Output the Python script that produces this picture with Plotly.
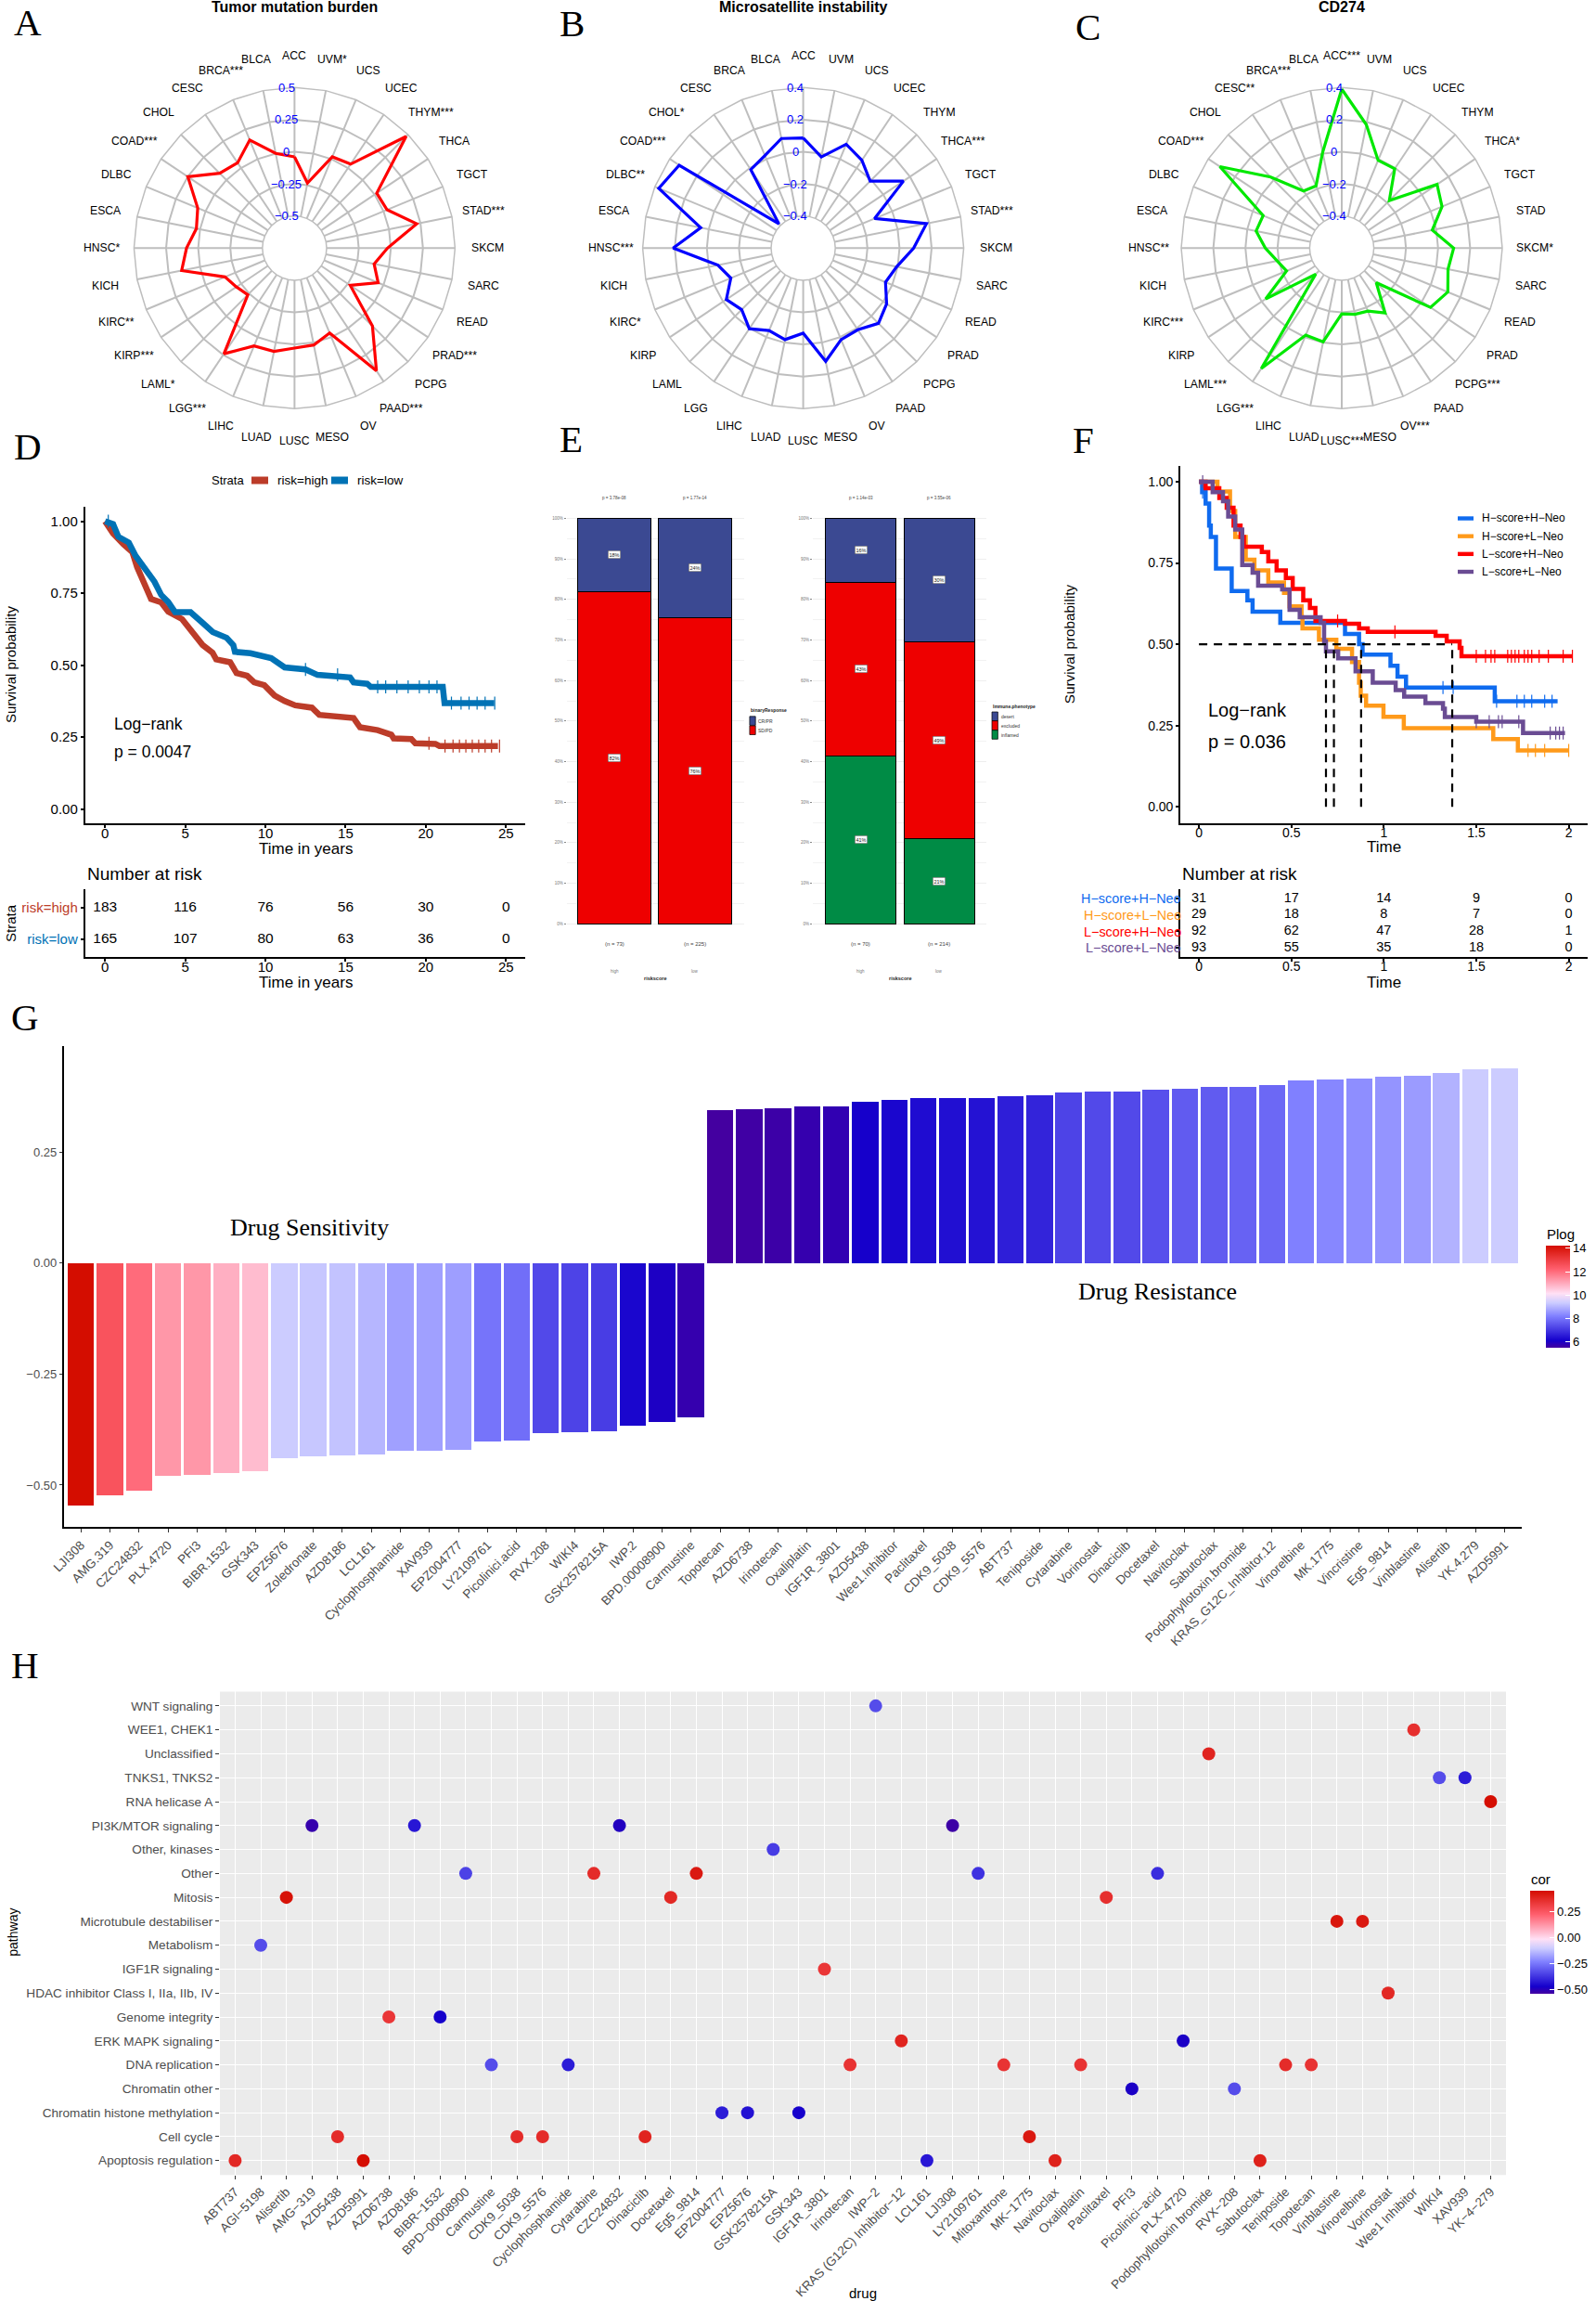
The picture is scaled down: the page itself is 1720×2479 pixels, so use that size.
import math
import plotly.graph_objects as go

W, H = 1720, 2479
SANS = "Liberation Sans"
SERIF = "Liberation Serif"

# ---------- data: radar panels ----------
cancers = ["ACC","UVM","UCS","UCEC","THYM","THCA","TGCT","STAD","SKCM","SARC","READ","PRAD","PCPG","PAAD","OV","MESO",
           "LUSC","LUAD","LIHC","LGG","LAML","KIRP","KIRC","KICH","HNSC","ESCA","DLBC","COAD","CHOL","CESC","BRCA","BLCA"]
tmb_labels = ["ACC","UVM*","UCS","UCEC","THYM***","THCA","TGCT","STAD***","SKCM","SARC","READ","PRAD***","PCPG","PAAD***","OV","MESO",
              "LUSC","LUAD","LIHC","LGG***","LAML*","KIRP***","KIRC**","KICH","HNSC*","ESCA","DLBC","COAD***","CHOL","CESC","BRCA***","BLCA"]
msi_labels = ["ACC","UVM","UCS","UCEC","THYM","THCA***","TGCT","STAD***","SKCM","SARC","READ","PRAD","PCPG","PAAD","OV","MESO",
              "LUSC","LUAD","LIHC","LGG","LAML","KIRP","KIRC*","KICH","HNSC***","ESCA","DLBC**","COAD***","CHOL*","CESC","BRCA","BLCA"]
cd274_labels = ["ACC***","UVM","UCS","UCEC","THYM","THCA*","TGCT","STAD","SKCM*","SARC","READ","PRAD","PCPG***","PAAD","OV***","MESO",
                "LUSC***","LUAD","LIHC","LGG***","LAML***","KIRP","KIRC***","KICH","HNSC**","ESCA","DLBC","COAD***","CHOL","CESC**","BRCA***","BLCA"]
tmb = [-.04,-.234,.019,.036,.479,.02,.03,.22,-.026,-.118,-.045,-.228,.108,.398,-.035,.019,
       .028,.07,.074,.239,-.236,-.206,-.164,.146,.091,.029,.066,.249,.074,.048,.161,.002]
msi = [.086,-.021,.10,.058,-.01,.151,-.119,.183,.088,-.006,-.045,.025,.063,.012,.017,.119,
       -.07,-.019,-.044,.004,-.058,-.024,-.112,-.058,.21,.051,.374,.329,-.386,-.012,.024,.096]
cd274 = [.39,.184,-.008,-.006,-.181,.114,.076,-.025,.097,.075,.115,.065,-.296,-.114,-.175,-.18,
         -.19,-.005,-.014,.302,-.371,-.03,-.228,-.19,-.124,-.056,-.07,.313,.026,-.172,-.181,.009]

# ---------- data: panel D ----------
d_high_t = [0,.5,1.15,1.7,2,2.44,2.87,3.5,3.94,4.8,5.44,6.08,6.7,6.93,7.8,8.2,8.86,9.3,9.93,10.57,11.2,11.86,12.9,13.36,15.5,15.9,17,17.85,18,19.1,19.35,20.6,20.85,24.5]
d_high_s = [1,.958,.92,.893,.84,.79,.73,.718,.686,.66,.615,.57,.543,.52,.51,.472,.463,.44,.43,.394,.375,.36,.352,.327,.316,.284,.274,.258,.245,.243,.228,.226,.219,.219]
d_low_t = [0,.5,.83,1.48,1.9,2.44,3.08,3.5,3.94,4.37,5.33,6.08,6.72,7.58,8,8.1,9.07,10.36,11.2,12.5,13.25,15.28,15.5,16.35,16.57,21.06,21.17,24.27]
d_low_s = [1,.99,.946,.926,.88,.842,.79,.744,.719,.684,.684,.647,.615,.595,.569,.546,.541,.524,.492,.485,.466,.457,.44,.435,.424,.424,.368,.368]
d_high_cens = [1.7,2.1,20.2,21.2,21.7,22.1,22.5,22.9,23.3,23.7,24.1,24.6]
d_low_cens = [0.2,12.5,14.5,17.0,17.5,18.2,18.9,19.6,20.2,20.7,21.6,22.2,22.7,23.2,23.7,24.3]
d_times = [0,5,10,15,20,25]
d_rows = ["risk=low","risk=high"]
d_counts = {"risk=high":[183,116,76,56,30,0],"risk=low":[165,107,80,63,36,0]}

# ---------- data: panel E ----------
e_groups = ["high","low"]
e_resp_names = ["SD/PD","CR/PR"]
e_resp = {"SD/PD":[.82,.755],"CR/PR":[.18,.245]}
e_resp_lab = {"SD/PD":["82%","76%"],"CR/PR":["18%","24%"]}
e_imm_names = ["inflamed","excluded","desert"]
e_imm = {"inflamed":[.414,.21],"excluded":[.429,.486],"desert":[.157,.304]}
e_imm_lab = {"inflamed":["41%","21%"],"excluded":["43%","49%"],"desert":["16%","30%"]}
e_colors = {"CR/PR":"#3B4992","SD/PD":"#EE0000","desert":"#3B4992","excluded":"#EE0000","inflamed":"#008B45"}
e_n = [["(n = 73)","(n = 225)"],["(n = 70)","(n = 214)"]]
e_p = [["p = 3.78e-08","p = 1.77e-14"],["p = 1.14e-03","p = 3.55e-06"]]
e_pct = [0,.1,.2,.3,.4,.5,.6,.7,.8,.9,1]

# ---------- data: panel F ----------
f_names = ["H\u2212score+H\u2212Neo","H\u2212score+L\u2212Neo","L\u2212score+H\u2212Neo","L\u2212score+L\u2212Neo"]
f_colors = ["#0F6BEF","#FF9A1A","#FF0000","#6A4C93"]
f_t = [
 [0,.017,.036,.055,.064,.092,.177,.262,.29,.44,.79,.866,.885,1.036,1.074,1.12,1.6,1.94],
 [0,.10,.168,.196,.253,.3,.375,.46,.49,.555,.56,.649,.743,.828,.866,.875,.904,.998,1.108,1.592,1.725,2.0],
 [0,.036,.11,.15,.187,.225,.243,.34,.375,.42,.47,.507,.564,.6,.63,.79,.866,.913,1.28,1.34,1.41,1.42,2.02],
 [0,.074,.13,.158,.196,.234,.29,.32,.45,.49,.545,.658,.677,.687,.753,.847,.94,1.064,1.11,1.225,1.32,1.33,1.5,1.753,1.98],
]
f_s = [
 [1,.968,.933,.865,.83,.733,.664,.635,.6,.566,.532,.50,.468,.434,.40,.367,.325,.325],
 [1,.97,.91,.83,.76,.727,.69,.658,.617,.583,.549,.514,.486,.445,.382,.342,.311,.277,.242,.208,.173,.173],
 [1,.98,.95,.92,.865,.83,.80,.784,.755,.727,.704,.67,.635,.612,.572,.563,.549,.538,.526,.509,.489,.463,.463],
 [1,.968,.94,.893,.853,.744,.72,.68,.669,.606,.583,.566,.509,.478,.457,.417,.382,.359,.339,.319,.302,.276,.262,.227,.227],
]
f_cens = [
 [0.02,1.32,1.375,1.61,1.72,1.76,1.8,1.87,1.91],
 [1.78,1.82,1.87,2.0],
 [.75,1.06,1.5,1.55,1.58,1.6,1.67,1.69,1.71,1.73,1.76,1.78,1.8,1.84,1.89,1.97,2.02],
 [.02,1.5,1.57,1.62,1.64,1.73,1.9,1.93,1.95,1.97],
]
f_medians = [.687,.73,.877,1.37]
f_times = [0,.5,1,1.5,2]
f_time_labels = ["0","0.5","1","1.5","2"]
f_counts = [[31,17,14,9,0],[29,18,8,7,0],[92,62,47,28,1],[93,55,35,18,0]]

# ---------- data: panel G ----------
g_drugs = ["LJI308","AMG.319","CZC24832","PLX.4720","PFI3","BIBR.1532","GSK343","EPZ5676","Zoledronate","AZD8186","LCL161","Cyclophosphamide","XAV939","EPZ004777","LY2109761","Picolinici.acid","RVX.208","WIKI4","GSK2578215A","IWP.2","BPD.00008900","Carmustine",
           "Topotecan","AZD6738","Irinotecan","Oxaliplatin","IGF1R_3801","AZD5438","Wee1.Inhibitor","Paclitaxel","CDK9_5038","CDK9_5576","ABT737","Teniposide","Cytarabine","Vorinostat","Dinaciclib","Docetaxel","Navitoclax","Sabutoclax","Podophyllotoxin.bromide","KRAS_G12C_Inhibitor.12","Vinorelbine","MK.1775","Vincristine","Eg5_9814","Vinblastine","Alisertib","YK.4.279","AZD5991"]
g_cor = [-.546,-.523,-.512,-.479,-.478,-.472,-.469,-.439,-.436,-.434,-.431,-.422,-.422,-.42,-.402,-.399,-.384,-.381,-.379,-.366,-.358,-.348,
         .345,.346,.349,.353,.353,.362,.368,.371,.372,.372,.375,.377,.384,.386,.386,.39,.393,.396,.397,.40,.411,.414,.416,.42,.421,.427,.437,.438]
g_plog = [14.2,12.5,12,11.3,11.3,10.9,10.7,9.33,9.25,9.2,9.0,8.68,8.68,8.65,8.0,7.9,7.3,7.2,7.1,6.2,6.0,5.7,
          5.5,5.55,5.6,5.7,5.75,6.1,6.2,6.3,6.35,6.4,6.6,6.7,7.2,7.3,7.3,7.4,7.6,7.6,7.7,7.8,8.2,8.3,8.4,8.5,8.6,8.94,9.33,9.33]

# ---------- data: panel H ----------
h_pathways = ["Apoptosis regulation","Cell cycle","Chromatin histone methylation","Chromatin other","DNA replication","ERK MAPK signaling","Genome integrity","HDAC inhibitor Class I, IIa, IIb, IV","IGF1R signaling","Metabolism","Microtubule destabiliser","Mitosis","Other","Other, kinases","PI3K/MTOR signaling","RNA helicase A","TNKS1, TNKS2","Unclassified","WEE1, CHEK1","WNT signaling"]
h_drugs = ["ABT737","AGI\u22125198","Alisertib","AMG\u2212319","AZD5438","AZD5991","AZD6738","AZD8186","BIBR\u22121532","BPD\u221200008900","Carmustine","CDK9_5038","CDK9_5576","Cyclophosphamide","Cytarabine","CZC24832","Dinaciclib","Docetaxel","Eg5_9814","EPZ004777","EPZ5676","GSK2578215A","GSK343","IGF1R_3801","Irinotecan","IWP\u22122","KRAS (G12C) Inhibitor\u221212","LCL161","LJI308","LY2109761","Mitoxantrone","MK\u22121775","Navitoclax","Oxaliplatin","Paclitaxel","PFI3","Picolinici\u2212acid","PLX\u22124720","Podophyllotoxin bromide","RVX\u2212208","Sabutoclax","Teniposide","Topotecan","Vinblastine","Vinorelbine","Vorinostat","Wee1 Inhibitor","WIKI4","XAV939","YK\u22124\u2212279"]
h_drug_pathway = ["Apoptosis regulation","Metabolism","Mitosis","PI3K/MTOR signaling","Cell cycle","Apoptosis regulation","Genome integrity","PI3K/MTOR signaling","Genome integrity","Other","DNA replication","Cell cycle","Cell cycle","DNA replication","Other","PI3K/MTOR signaling","Cell cycle","Mitosis","Other","Chromatin histone methylation","Chromatin histone methylation","Other, kinases","Chromatin histone methylation","IGF1R signaling","DNA replication","WNT signaling","ERK MAPK signaling","Apoptosis regulation","PI3K/MTOR signaling","Other","DNA replication","Cell cycle","Apoptosis regulation","DNA replication","Mitosis","Chromatin other","Other","ERK MAPK signaling","Unclassified","Chromatin other","Apoptosis regulation","DNA replication","DNA replication","Microtubule destabiliser","Microtubule destabiliser","HDAC inhibitor Class I, IIa, IIb, IV","WEE1, CHEK1","TNKS1, TNKS2","TNKS1, TNKS2","RNA helicase A"]
h_cor = [.37,-.33,.43,-.52,.36,.44,.33,-.43,-.47,-.35,-.33,.36,.36,-.42,.36,-.49,.38,.37,.41,-.42,-.44,-.36,-.47,.33,.34,-.33,.38,-.43,-.53,-.38,.34,.41,.39,.34,.35,-.48,-.39,-.48,.38,-.33,.39,.36,.34,.42,.41,.37,.35,-.33,-.42,.44]

# ---------- helpers ----------
def xd(a, b): return [a / W, b / W]
def yd(top, bot): return [1 - bot / H, 1 - top / H]
annotations, shapes = [], []
def ann(text, x, y, size=12, color="black", family=SANS, xanchor="center", yanchor="middle", angle=0, **kw):
    annotations.append(dict(text=text, x=x / W, y=1 - y / H, xref="paper", yref="paper", showarrow=False,
                            xanchor=xanchor, yanchor=yanchor, textangle=angle, borderpad=0,
                            font=dict(family=family, size=size, color=color), **kw))
def rect(x0, y0, x1, y1, fill, line=None, lw=0, layer="above"):
    shapes.append(dict(type="rect", xref="paper", yref="paper", x0=x0 / W, x1=x1 / W, y0=1 - y0 / H, y1=1 - y1 / H,
                       fillcolor=fill, line=dict(color=line or fill, width=lw), layer=layer))
def step_at(ts, ss, t):
    v = ss[0]
    for a, b in zip(ts, ss):
        if a <= t: v = b
    return v

fig = go.Figure()
layout = dict(width=W, height=H, autosize=False, margin=dict(l=0, r=0, t=0, b=0, pad=0, autoexpand=False), paper_bgcolor="white",
              plot_bgcolor="rgba(0,0,0,0)", showlegend=False, barmode="stack",
              font=dict(family=SANS, color="black"))

# ---------- panel letters ----------
for s, x, y in [("A",29.6,24),("B",616,24.5),("C",1172.5,29),("D",30.3,481),("E",615,473),("F",1167.6,474),("G",27.4,1096),("H",27.4,1794)]:
    ann(s, x, y, size=41, family=SERIF)

# ---------- radar A, B, C ----------
R = 173
CY = 267.3
LABEL_RHO = 1.2
radars = [("polar", 317.4, "Tumor mutation burden", tmb, tmb_labels, "#FF0000", .5, [.5,.25,0,-.25,-.5], ["0.5","0.25","0","\u22120.25","\u22120.5"]),
          ("polar2", 865.6, "Microsatellite instability", msi, msi_labels, "#0000FF", .4, [.4,.2,0,-.2,-.4], ["0.4","0.2","0","\u22120.2","\u22120.4"]),
          ("polar3", 1446, "CD274", cd274, cd274_labels, "#00E800", .4, [.4,.2,0,-.2,-.4], ["0.4","0.2","0","\u22120.2","\u22120.4"])]
GRID = "#BEBEBE"
for sp, cx, title, vals, labels, col, rmax, ticks, ticktxt in radars:
    layout[sp] = dict(domain=dict(x=xd(cx - R, cx + R), y=yd(CY - R, CY + R)), hole=.2, gridshape="linear", bgcolor="rgba(0,0,0,0)",
                      radialaxis=dict(range=[-rmax, rmax], tickvals=ticks, showticklabels=False, showline=False, ticks="",
                                      gridcolor=GRID, gridwidth=1.5, angle=90),
                      angularaxis=dict(type="category", categoryorder="array", categoryarray=cancers, rotation=90, direction="clockwise",
                                       showticklabels=False, ticks="", showline=True, linecolor=GRID, linewidth=1.5,
                                       gridcolor=GRID, gridwidth=1.5))
    fig.add_trace(go.Scatterpolar(subplot=sp, theta=cancers + cancers[:1], r=vals + vals[:1], mode="lines+markers",
                                  line=dict(color=col, width=3.2), marker=dict(color=col, size=7), hoverinfo="skip"))
    for i, lab in enumerate(labels):
        a = 2 * math.pi * i / len(labels)
        ann(lab, cx + R * LABEL_RHO * math.sin(a), CY - R * LABEL_RHO * math.cos(a), size=12.2)
    ann("<b>%s</b>" % title, cx, 7.5, size=16)
    for v, t in zip(ticks, ticktxt):
        rho = .2 + .8 * (v + rmax) / (2 * rmax)
        ann(t, cx - 8.5, CY - R * rho, size=13, color="#0000FF")

AX = dict(showline=True, linecolor="black", linewidth=2, ticks="outside", ticklen=3, tickwidth=1.5, tickcolor="black",
          showgrid=False, zeroline=False, tickfont=dict(family=SANS, size=15, color="black"))
XSTAND = -7

# ---------- panel D ----------
layout["xaxis"] = dict(AX, domain=xd(91.8, 566), range=[-1.24, 26.2], tickvals=d_times, anchor="y", ticklabelstandoff=XSTAND)
layout["yaxis"] = dict(AX, domain=yd(546.4, 886.7), range=[-.049, 1.049], tickvals=[0,.25,.5,.75,1], ticktext=["0.00","0.25","0.50","0.75","1.00"], anchor="x")
for ts, ss, cens, col in [(d_high_t, d_high_s, d_high_cens, "#BC3C29"), (d_low_t, d_low_s, d_low_cens, "#0072B5")]:
    fig.add_trace(go.Scatter(x=ts, y=ss, mode="lines", line=dict(color=col, width=6.5), xaxis="x", yaxis="y", hoverinfo="skip"))
    fig.add_trace(go.Scatter(x=cens, y=[step_at(ts, ss, c) for c in cens], mode="markers", xaxis="x", yaxis="y", hoverinfo="skip",
                             marker=dict(symbol="line-ns", size=10, line=dict(color=col, width=1.2))))
ann("Strata", 246, 517.5, size=13)
rect(271, 513.5, 289, 521.5, "#BC3C29"); ann("risk=high", 298, 517.5, size=13.5, xanchor="left")
rect(357, 513.5, 375, 521.5, "#0072B5"); ann("risk=low", 384, 517.5, size=13.5, xanchor="left")
ann("Log\u2212rank", 122, 779.5, size=17.5, xanchor="left")
ann("p = 0.0047", 122, 809.6, size=17.5, xanchor="left")
ann("Survival probability", 11, 716, size=15, angle=-90)
ann("Time in years", 329, 914, size=17)
ann("Number at risk", 92.5, 941.8, size=19, xanchor="left")
layout["xaxis2"] = dict(AX, domain=xd(91.8, 566), range=[-1.24, 26.2], tickvals=d_times, anchor="y2", ticklabelstandoff=XSTAND)
layout["yaxis2"] = dict(AX, domain=yd(958.2, 1031.4), type="category", categoryorder="array", categoryarray=d_rows, range=[-.585, 1.59],
                        tickvals=d_rows, ticktext=['<span style="color:#0072B5">risk=low</span>', '<span style="color:#BC3C29">risk=high</span>'], anchor="x2")
for row in d_rows:
    fig.add_trace(go.Scatter(x=d_times, y=[row] * 6, text=[str(c) for c in d_counts[row]], mode="text", xaxis="x2", yaxis="y2",
                             textfont=dict(family=SANS, size=15.5, color="black"), cliponaxis=False, hoverinfo="skip"))
ann("Strata", 11, 995, size=15, angle=-90)
ann("Time in years", 329, 1058.7, size=17)

# ---------- panel E ----------
def e_panel(xn, yn, x0, x1, xr, names, data, labs, width):
    xa = xn; ya = yn
    layout[("xaxis" + xn[1:])] = dict(domain=xd(x0, x1), range=xr, type="category", categoryorder="array", categoryarray=e_groups,
                                      showticklabels=False, ticks="", showgrid=False, zeroline=False, anchor=yn)
    layout[("yaxis" + yn[1:])] = dict(domain=yd(556.3, 997.4), range=[-.005, 1.005], tickvals=e_pct, ticktext=["%d%%" % round(p * 100) for p in e_pct],
                                      tickfont=dict(size=4.5, color="#777777", family=SANS), ticks="outside", ticklen=2, tickwidth=.6, tickcolor="#888888",
                                      showgrid=True, gridcolor="#EEEEEE", gridwidth=.7, zeroline=False,
                                      minor=dict(dtick=.05, showgrid=True, gridcolor="#F2F2F2", gridwidth=.7), anchor=xn)
    base = [0, 0]
    for nm in names:
        fig.add_trace(go.Bar(x=e_groups, y=data[nm], width=width, xaxis=xa, yaxis=ya, hoverinfo="skip",
                             marker=dict(color=e_colors[nm], line=dict(color="black", width=1))))
        for i, g in enumerate(e_groups):
            annotations.append(dict(x=g, y=base[i] + data[nm][i] / 2, xref=xa, yref=ya, text=labs[nm][i], showarrow=False, bgcolor="white",
                                    bordercolor="#555555", borderwidth=.5, borderpad=1, font=dict(family=SANS, size=5.5, color="#222222")))
            base[i] += data[nm][i]
e_panel("x3", "y3", 610.7, 801.6, [-.592, 1.6], e_resp_names, e_resp, e_resp_lab, .905)
e_panel("x4", "y4", 876, 1063.2, [-.611, 1.6], e_imm_names, e_imm, e_imm_lab, .9)
for k, (xs, rx) in enumerate([([662.3, 749.4], 705.8), ([927.7, 1012.3], 970)]):
    for i, x in enumerate(xs):
        ann(e_p[k][i], x, 536, size=4.5, color="#444444")
        ann(e_n[k][i], x, 1017, size=6, color="#444444")
        ann(e_groups[i], x, 1046.6, size=4.5, color="#777777")
    ann("<b>riskscore</b>", rx, 1053.5, size=5.5, color="#222222")
ann("<b>binaryResponse</b>", 807.9, 765, size=5, xanchor="left", color="#222222")
for nm, y0, y1 in [("CR/PR", 771.8, 781.4), ("SD/PD", 781.9, 791.5)]:
    rect(807.9, y0, 814.2, y1, e_colors[nm], "black", .7)
    ann(nm, 816, (y0 + y1) / 2, size=5, xanchor="left", color="#333333")
ann("<b>Immune.phenotype</b>", 1069, 760.6, size=5, xanchor="left", color="#222222")
for nm, y0, y1 in [("desert", 767, 776.6), ("excluded", 776.6, 786.7), ("inflamed", 786.7, 796.3)]:
    rect(1069, y0, 1075.4, y1, e_colors[nm], "black", .7)
    ann(nm, 1077.6, (y0 + y1) / 2, size=5, xanchor="left", color="#333333")

# ---------- panel F ----------
AXF = dict(AX, tickfont=dict(family=SANS, size=14, color="black"))
layout["xaxis5"] = dict(AXF, domain=xd(1272.2, 1710.5), range=[-.1, 2.1], tickvals=f_times, ticktext=f_time_labels, anchor="y5", ticklabelstandoff=XSTAND)
layout["yaxis5"] = dict(AXF, domain=yd(502.2, 886.7), range=[-.05, 1.048], tickvals=[0,.25,.5,.75,1], ticktext=["0.00","0.25","0.50","0.75","1.00"], anchor="x5")
for i in range(4):
    fig.add_trace(go.Scatter(x=f_t[i], y=f_s[i], mode="lines", line=dict(color=f_colors[i], width=4.5, shape="hv"), xaxis="x5", yaxis="y5", hoverinfo="skip"))
    fig.add_trace(go.Scatter(x=f_cens[i], y=[step_at(f_t[i], f_s[i], c) for c in f_cens[i]], mode="markers", xaxis="x5", yaxis="y5", hoverinfo="skip",
                             marker=dict(symbol="line-ns", size=10, line=dict(color=f_colors[i], width=1.2))))
    y = 558.5 + i * 19.17
    rect(1571, y - 2.2, 1588, y + 2.2, f_colors[i])
    ann(f_names[i], 1596, y, size=12, xanchor="left")
fig.add_trace(go.Scatter(x=[0, max(f_medians)], y=[.5, .5], mode="lines", line=dict(color="black", width=2.2, dash="9px,7px"), xaxis="x5", yaxis="y5", hoverinfo="skip"))
for m in f_medians:
    fig.add_trace(go.Scatter(x=[m, m], y=[0, .5], mode="lines", line=dict(color="black", width=2.2, dash="9px,7px"), xaxis="x5", yaxis="y5", hoverinfo="skip"))
ann("Log\u2212rank", 1301, 764.6, size=20, xanchor="left")
ann("p = 0.036", 1301, 799.5, size=20, xanchor="left")
ann("Survival probability", 1153.3, 693.9, size=15.3, angle=-90)
ann("Time", 1491.6, 913, size=17)
ann("Number at risk", 1273, 941.8, size=19, xanchor="left")
layout["xaxis6"] = dict(AXF, domain=xd(1272.2, 1710.5), range=[-.1, 2.1], tickvals=f_times, ticktext=f_time_labels, anchor="y6", ticklabelstandoff=XSTAND)
layout["yaxis6"] = dict(AXF, domain=yd(958.2, 1031), type="category", categoryorder="array", categoryarray=f_names[::-1], range=[-.57, 3.57],
                        showticklabels=False, tickvals=f_names, anchor="x6")
for i in range(4):
    fig.add_trace(go.Scatter(x=f_times, y=[f_names[i]] * 5, text=[str(c) for c in f_counts[i]], mode="text", xaxis="x6", yaxis="y6",
                             textfont=dict(family=SANS, size=14.5, color="black"), cliponaxis=False, hoverinfo="skip"))
    ann(f_names[i], 1274, 968.3 + i * 17.6, size=14.4, color=f_colors[i], xanchor="right")
ann("Time", 1491.6, 1058.3, size=17)

# ---------- shared colour ramp ----------
RAMP = [[0,"#4400A0"],[.07,"#1500CC"],[.31,"#8080FF"],[.44,"#CCCCFF"],[.53,"#FFE0F5"],[.77,"#FF5F6E"],[1,"#D40D00"]]

# ---------- panel G ----------
GREY = "#4D4D4D"
layout["xaxis7"] = dict(domain=xd(68.6, 1639.5), range=[-.594, 49.58], type="category", categoryorder="array", categoryarray=g_drugs, tickangle=-45,
                        tickmode="array", tickvals=g_drugs, ticktext=g_drugs,
                        showline=True, linecolor="black", linewidth=2, ticks="outside", ticklen=4, tickcolor="#333333", showgrid=False, zeroline=False,
                        tickfont=dict(family=SANS, size=13.5, color=GREY), anchor="y7")
layout["yaxis7"] = dict(domain=yd(1127.4, 1645.4), range=[-.595, .4875], tickvals=[-.5,-.25,0,.25], ticktext=["\u22120.50","\u22120.25","0.00","0.25"],
                        showline=True, linecolor="black", linewidth=1.5, ticks="outside", ticklen=3, tickcolor="#333333", showgrid=False, zeroline=False,
                        tickfont=dict(family=SANS, size=13, color=GREY), anchor="x7")
fig.add_trace(go.Bar(x=g_drugs, y=g_cor, width=.91, xaxis="x7", yaxis="y7", hoverinfo="skip",
                     marker=dict(color=g_plog, colorscale=RAMP, cmin=5.5, cmax=14.2, showscale=True, line=dict(width=0),
                                 colorbar=dict(x=1665.8 / W, xanchor="left", y=1 - 1342.2 / H, yanchor="top", len=110.3, lenmode="pixels", thickness=26,
                                               thicknessmode="pixels", xpad=0, ypad=0, outlinewidth=0, tickvals=[6,8,10,12,14], ticks="inside", ticklen=5,
                                               tickcolor="white", tickfont=dict(family=SANS, size=13, color="black")))))
ann("Plog", 1666, 1329, size=15, xanchor="left")
ann("Drug Sensitivity", 333, 1322, size=26, family=SERIF)
ann("Drug Resistance", 1247, 1391.6, size=26, family=SERIF)

# ---------- panel H ----------
rect(237, 1822.4, 1623, 2343.2, "#EBEBEB", layer="below")
layout["xaxis8"] = dict(domain=xd(237, 1623), range=[-.594, 49.6], type="category", categoryorder="array", categoryarray=h_drugs, tickangle=-45,
                        tickmode="array", tickvals=h_drugs, ticktext=h_drugs,
                        showline=False, ticks="outside", ticklen=4, tickcolor="#333333", showgrid=True, gridcolor="white", gridwidth=1.2, zeroline=False,
                        tickfont=dict(family=SANS, size=13.5, color=GREY), anchor="y8")
layout["yaxis8"] = dict(domain=yd(1822.4, 2343.2), range=[-.6, 19.6], type="category", categoryorder="array", categoryarray=h_pathways,
                        tickmode="array", tickvals=h_pathways, ticktext=h_pathways,
                        showline=False, ticks="outside", ticklen=4, tickcolor="#333333", showgrid=True, gridcolor="white", gridwidth=1.2, zeroline=False,
                        tickfont=dict(family=SANS, size=13.6, color=GREY), anchor="x8")
fig.add_trace(go.Scatter(x=h_drugs, y=h_drug_pathway, mode="markers", xaxis="x8", yaxis="y8", hoverinfo="skip",
                         marker=dict(size=14, color=h_cor, colorscale=RAMP, cmin=-.54, cmax=.444, showscale=True,
                                     colorbar=dict(x=1648.8 / W, xanchor="left", y=1 - 2037.4 / H, yanchor="top", len=111.4, lenmode="pixels", thickness=26,
                                                   thicknessmode="pixels", xpad=0, ypad=0, outlinewidth=0, tickvals=[-.5,-.25,0,.25], tickformat=".2f", ticks="inside", ticklen=5,
                                                   tickcolor="white", tickfont=dict(family=SANS, size=13, color="black")))))
ann("cor", 1648.5, 2024, size=15, xanchor="left")
ann("pathway", 13.7, 2082, size=14, angle=-90)
ann("drug", 929.7, 2470.7, size=15)

layout["annotations"] = annotations
layout["shapes"] = shapes
fig.update_layout(**layout)
fig.write_html("out.html", config=dict(displayModeBar=False), post_script="document.body.style.margin='0';")
